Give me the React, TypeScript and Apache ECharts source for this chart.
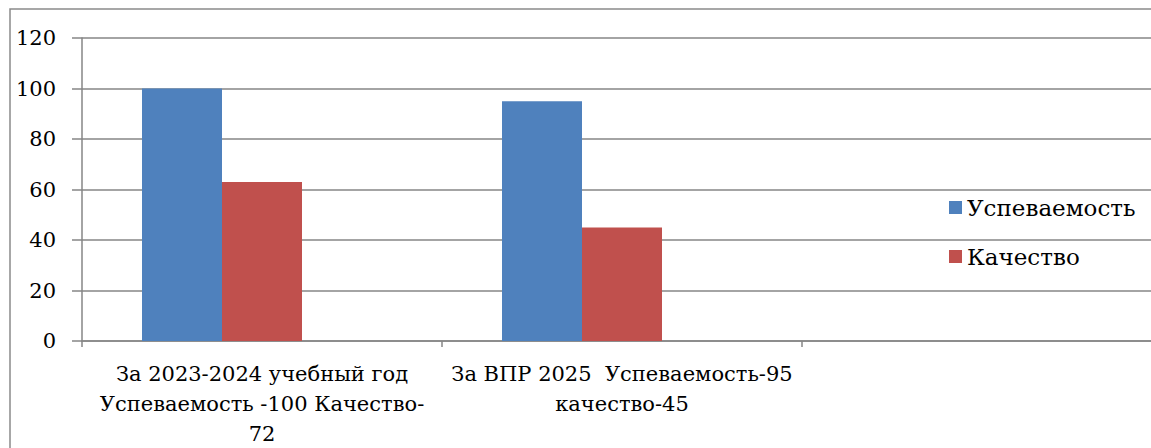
import React, { useEffect, useRef } from "react";
import * as echarts from "echarts";

const categories = [
  "За 2023-2024 учебный год\nУспеваемость -100 Качество-\n72",
  "За ВПР 2025  Успеваемость-95\nкачество-45",
  "",
];
const uspevaemost = [100, 95, null];
const kachestvo = [63, 45, null];
const empty = [null, null, null];
const yTicks = { min: 0, max: 120, interval: 20 };

export default function App() {
  const ref = useRef<HTMLDivElement>(null);
  useEffect(() => {
    const chart = echarts.init(ref.current!, null, { renderer: "svg" });
    const font = "DejaVu Serif";
    chart.setOption({
      animation: false,
      backgroundColor: "#fff",
      textStyle: { fontFamily: font },
      graphic: [
        {
          type: "rect",
          shape: { x: 10, y: 9, width: 1200, height: 500 },
          style: { fill: "none", stroke: "#8a8a8a", lineWidth: 1.5 },
          silent: true,
        },
      ],
      grid: {
        left: 82,
        top: 38,
        height: 303,
        width: 1080,
        containLabel: false,
        outerBoundsMode: "none",
      },
      legend: {
        data: ["Успеваемость", "Качество"],
        orient: "vertical",
        left: 944,
        top: 191,
        itemWidth: 13,
        itemHeight: 13,
        itemGap: 26,
        icon: "rect",
        textStyle: { fontFamily: font, fontSize: 23, color: "#000" },
      },
      xAxis: {
        type: "category",
        data: categories,
        axisLine: { lineStyle: { color: "#868686", width: 1.5 } },
        axisTick: { show: true, length: 6, interval: 0, lineStyle: { color: "#868686", width: 1.5 } },
        axisLabel: {
          interval: 0,
          fontFamily: font,
          fontSize: 21,
          color: "#000",
          lineHeight: 30,
          margin: 18,
          align: "center",
        },
      },
      yAxis: {
        type: "value",
        min: yTicks.min,
        max: yTicks.max,
        interval: yTicks.interval,
        axisLine: { show: true, lineStyle: { color: "#868686", width: 1.5 } },
        axisTick: { show: true, length: 10, lineStyle: { color: "#868686", width: 1.5 } },
        splitLine: { lineStyle: { color: "#868686", width: 1.5 } },
        axisLabel: { fontFamily: font, fontSize: 21, color: "#000", margin: 26 },
      },
      series: [
        {
          name: "Успеваемость",
          type: "bar",
          data: uspevaemost,
          itemStyle: { color: "#4f81bd" },
          barGap: "0%",
          barCategoryGap: "33.333%",
        },
        {
          name: "Качество",
          type: "bar",
          data: kachestvo,
          itemStyle: { color: "#c0504d" },
          barGap: "0%",
          barCategoryGap: "33.333%",
        },
        {
          name: "empty",
          type: "bar",
          data: empty,
          itemStyle: { color: "#9bbb59" },
          barGap: "0%",
          barCategoryGap: "33.333%",
        },
      ],
    });
    return () => chart.dispose();
  }, []);
  return (
    <div
      ref={ref}
      style={{ position: "fixed", left: 0, top: 0, width: 1151, height: 448 }}
    />
  );
}
